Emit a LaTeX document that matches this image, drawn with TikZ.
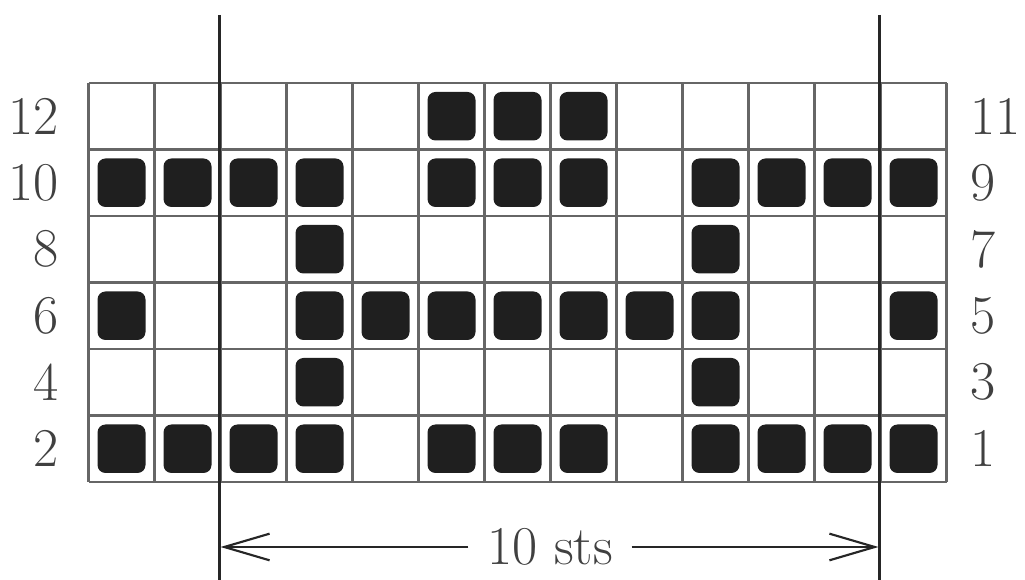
\documentclass[tikz,border=0pt]{standalone}
\usetikzlibrary{arrows.meta}
\begin{document}
\begin{tikzpicture}[x=0.75pt,y=-0.75pt,
  gridline/.style={draw=black!60,line width=2.1pt},
  rule/.style={draw=black!85,line width=2.2pt},
  stitch/.style={fill=black!88,rounded corners=6pt},
  lbl/.style={font=\fontsize{41}{44}\selectfont,text=black!75,inner sep=0pt},
  dim/.style={draw=black!85,line width=1.6pt,-{Straight Barb[length=34pt,width=20pt,line width=1.6pt]}}]
\useasboundingbox (0,0) rectangle (1025,580);
% grid
\foreach \i in {0,...,13} \draw[gridline] ({88.5+66*\i},83) -- ({88.5+66*\i},482);
\foreach \j in {0,...,6} \draw[gridline] (88.5,{83+66.5*\j}) -- (946.5,{83+66.5*\j});
% filled stitches
\foreach \r/\cols in {0/{6,7,8},1/{1,2,3,4,6,7,8,10,11,12,13},2/{4,10},3/{1,4,5,6,7,8,9,10,13},4/{4,10},5/{1,2,3,4,6,7,8,10,11,12,13}}{
  \foreach \c in \cols {
    \fill[stitch] ({88.5+66*(\c-1)+9},{83+66.5*\r+9}) rectangle ++(48,48.5);
  }
}
% row numbers
\foreach \n [count=\k from 0] in {12,10,8,6,4,2}
  \node[lbl,anchor=east] (L\n) at (59,{116+66.5*\k}) {\n};
\foreach \n [count=\k from 0] in {11,9,7,5,3,1}
  \node[lbl,anchor=west] (R\n) at (970,{116+66.5*\k}) {\n};
% repeat lines
\coordinate (vt1) at (219.5,15);
\coordinate (vb1) at (219.5,580);
\coordinate (vt2) at (879.5,15);
\coordinate (vb2) at (879.5,580);
\draw[rule] (vt1) -- (vb1);
\draw[rule] (vt2) -- (vb2);
% width label
\node[lbl,inner xsep=14pt] (sts) at (550,547) {10 sts};
\coordinate (a1) at (220.5,547);
\coordinate (a2) at (878.5,547);
\draw[dim] (sts.west) -- (a1);
\draw[dim] (sts.east) -- (a2);
\end{tikzpicture}
\end{document}
